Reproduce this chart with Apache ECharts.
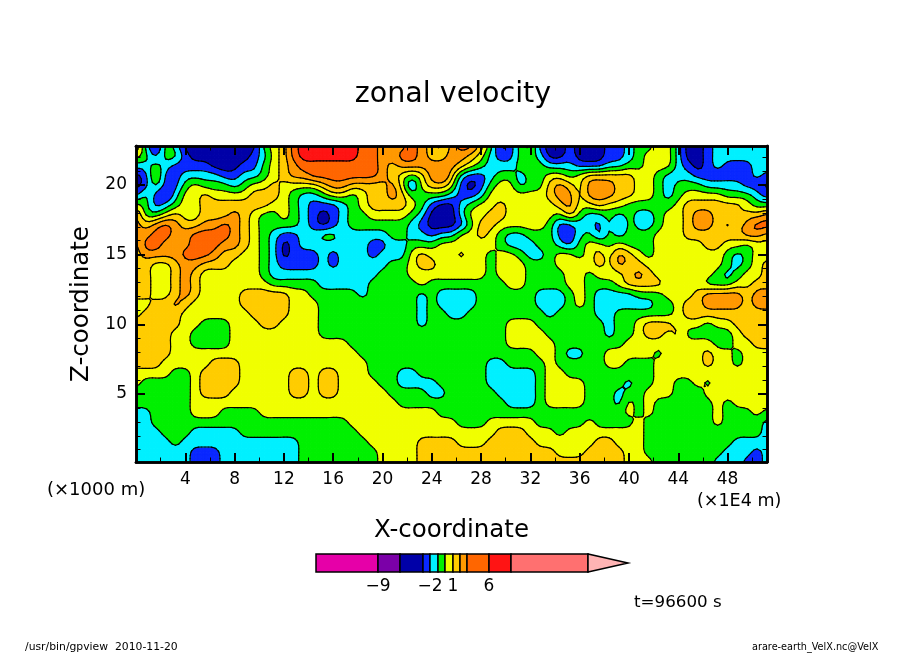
<!DOCTYPE html>
<html>
<head>
<meta charset="utf-8">
<title>zonal velocity</title>
<script src="https://cdn.jsdelivr.net/npm/echarts@6/dist/echarts.min.js"></script>
<style>
  html, body { margin: 0; background: #fff; }
  #chart-container { width: 904px; height: 654px; }
</style>
</head>
<body>
<div id="chart-container"></div>
<script>
// colour band read at each grid node, top row first (hex digit = index in bandColors)
const bandRows = [
    "84254222222225679AAAAAA998889876899752356322322233455664223444444",
    "65355322222234679AAAAAA998899877887643355422322233456664223444444",
    "44543333222335678999999998788888876544455544433344556664323433344",
    "23633444433445678899999998765689743345545566567777766544433333343",
    "23533565554566766667887777863677632356645578768887766545554444332",
    "35324667666677765445665677875555433466666678868887766545666655543",
    "65345667777777665433345677776532245667666667866766555556777777655",
    "85567667778765565432345566665422246677666665754454544566788776778",
    "87898778898765555432345555554322235776666653344353544566788787899",
    "88998899998765433445544444554434466765445553345354555666777777887",
    "79988899988765423444444433445556666665444554356656555666667766566",
    "78888999877665423334344434446766676656654456656768765666666654566",
    "77667887776665433334344444556776666656665556666768776666666654567",
    "77667876666665444444444445556666666656665555665666787666666545667",
    "77667876666666555554444455555655555555665555665556777766665556677",
    "77667876666777776655555455555454444555555444565444455566678888788",
    "66778766666777776665555555555454444555555444565444444556778888788",
    "67777666666677776665555555555455445555555545555445555556777777777",
    "77777665556667766665555555555455555555666555555545567776665667777",
    "77776655556666666665555555555555555555666655555545567767555556777",
    "77776655556666666666665555555555555555666665555555666666666556677",
    "77776666666666666666666555555555555555555665445566666566667665666",
    "77766666777666666666666655555555555544555565555566555666667665666",
    "66665567777666667767766655544555555544444566555555555666666666666",
    "65555567777666667767766665544445555544444566665555455665565666666",
    "55555567776666667767766666555544555554444566665554556665556666666",
    "55555566666666666666666666655555555555444566665554656555555656666",
    "44555566655556666666666666666665555555555555555555656555555655565",
    "44555555555555555555556666666666655566666555556555565555555655554",
    "44455544444555555555555666666666666667776665666666665555555555554",
    "44445444444444444555555566666777766677777666666776665555555554444",
    "44444433344444444555555556666777777777777776667777665555555544434",
    "44444433344444444555555556666777777777777777777777666555555444334"
];
const bandColors = ["#e600a8", "#7b00a8", "#0000a8", "#0a28ff", "#00f0ff", "#00f000", "#f0ff00", "#ffcc00", "#ff9900", "#ff6600", "#ff1414", "#ff7070", "#ffb4b4"];
const bandIndexes = [2, 3, 4, 5, 6, 7, 8, 9, 10];

const xTicks = [4, 8, 12, 16, 20, 24, 28, 32, 36, 40, 44, 48];
const xMinorTicks = [2, 6, 10, 14, 18, 22, 26, 30, 34, 38, 42, 46, 50];
const zTicks = [5, 10, 15, 20];
const zMinorTicks = [1, 2, 3, 4, 6, 7, 8, 9, 11, 12, 13, 14, 16, 17, 18, 19, 21, 22];

const colorbarStops = [0, 62, 84, 107, 114, 122, 129, 137, 144, 151, 173, 195, 272, 312];
const colorbarTickStops = [62, 114, 137, 173];
const colorbarTickLabels = ["\u22129", "\u22122", "1", "6"];

const xMin = 0, xMax = 51.2, zMin = 0.12, zMax = 22.8;
const FONT = '"DejaVu Sans", sans-serif';
const REFINE = 3;   // contour on a finer mesh so the outlines come out round
const SOFTEN = 3;   // light 1-2-1 passes over that mesh, takes the grid stair steps out

const nodeCols = 65;
const rows = bandRows.map(r => {
    const out = r.split('').map(ch => parseInt(ch, 16));
    while (out.length < nodeCols) out.push(out[out.length - 1]);
    return out.slice(0, nodeCols);
});

function catmull(p0, p1, p2, p3, t) {
    return p1 + 0.5 * t * (p2 - p0 + t * (2 * p0 - 5 * p1 + 4 * p2 - p3 + t * (3 * (p1 - p2) + p3 - p0)));
}
function sampleField(i, j, fi, fj) {
    const at = (a, b) => rows[Math.max(0, Math.min(rows.length - 1, a))][Math.max(0, Math.min(nodeCols - 1, b))];
    const col = [];
    for (let k = -1; k <= 2; k++) {
        col.push(catmull(at(i + k, j - 1), at(i + k, j), at(i + k, j + 1), at(i + k, j + 2), fj));
    }
    return catmull(col[0], col[1], col[2], col[3], fi);
}
let fineRows = [];
for (let i = 0; i <= (rows.length - 1) * REFINE; i++) {
    const line = [];
    for (let j = 0; j <= (nodeCols - 1) * REFINE; j++) {
        line.push(sampleField(Math.floor(i / REFINE), Math.floor(j / REFINE), (i % REFINE) / REFINE, (j % REFINE) / REFINE));
    }
    fineRows.push(line);
}
for (let pass = 0; pass < SOFTEN; pass++) {
    const h = fineRows.length, w = fineRows[0].length;
    const horiz = fineRows.map(l => l.map((v, j) => (l[Math.max(0, j - 1)] + 2 * v + l[Math.min(w - 1, j + 1)]) / 4));
    fineRows = horiz.map((l, i) => l.map((v, j) => (horiz[Math.max(0, i - 1)][j] + 2 * v + horiz[Math.min(h - 1, i + 1)][j]) / 4));
}
const fineX = j => xMin + (xMax - xMin) * j / (fineRows[0].length - 1);
const fineZ = i => zMax - (zMax - zMin) * i / (fineRows.length - 1);

// clip one mesh cell against "band >= t"; returns fill polygon and contour segments
function clipCell(corners, t) {
    const poly = [], segs = [];
    let exit = null;
    const start = corners.findIndex((c, k) => c[2] >= t && corners[(k + 3) % 4][2] < t);
    const first = start < 0 ? 0 : start;
    for (let k = 0; k < 4; k++) {
        const a = corners[(first + k) % 4], b = corners[(first + k + 1) % 4];
        if (a[2] >= t) poly.push([a[0], a[1]]);
        if ((a[2] >= t) !== (b[2] >= t)) {
            const f = (t - a[2]) / (b[2] - a[2]);
            const p = [a[0] + (b[0] - a[0]) * f, a[1] + (b[1] - a[1]) * f];
            poly.push(p);
            if (a[2] >= t) exit = p;
            else if (exit) { segs.push([exit, p]); exit = null; }
        }
    }
    if (exit) segs.push([exit, poly[0]]);
    return { poly, segs };
}

function eachCell(band, cb) {
    const t = band - 0.5;
    for (let i = 0; i < fineRows.length - 1; i++) {
        for (let j = 0; j < fineRows[i].length - 1; j++) {
            const corners = [
                [fineX(j), fineZ(i), fineRows[i][j]],
                [fineX(j + 1), fineZ(i), fineRows[i][j + 1]],
                [fineX(j + 1), fineZ(i + 1), fineRows[i + 1][j + 1]],
                [fineX(j), fineZ(i + 1), fineRows[i + 1][j]]
            ];
            const vals = corners.map(c => c[2]);
            if (Math.max(...vals) < t || Math.min(...vals) >= t + 1) continue;
            cb(clipCell(corners, t));
        }
    }
}

function renderBands(params, api) {
    const band = api.value(0);
    const children = [];
    if (band === 0) {
        // contour lines go on top of every fill
        bandIndexes.slice(1).forEach(b => eachCell(b, r => r.segs.forEach(s => {
            const a = api.coord(s[0]), c = api.coord(s[1]);
            children.push({
                type: 'line',
                shape: { x1: a[0], y1: a[1], x2: c[0], y2: c[1] },
                style: { stroke: '#000', lineWidth: 1.2, lineCap: 'round' }
            });
        })));
        return { type: 'group', children };
    }
    const color = bandColors[band];
    eachCell(band, r => {
        if (r.poly.length < 3) return;
        children.push({
            type: 'polygon',
            shape: { points: r.poly.map(p => api.coord(p)) },
            style: { fill: color, stroke: color, lineWidth: 1 }
        });
    });
    return { type: 'group', children };
}

function renderColorbar(params, api) {
    const i = api.value(0);
    const from = api.coord([colorbarStops[i], 0]);
    const to = api.coord([colorbarStops[i + 1], 1]);
    const style = { fill: bandColors[i], stroke: '#000', lineWidth: 1.5 };
    if (i === colorbarStops.length - 2) {
        return {
            type: 'polygon',
            shape: { points: [[from[0], from[1]], [to[0], (from[1] + to[1]) / 2], [from[0], to[1]]] },
            style: style
        };
    }
    return {
        type: 'rect',
        shape: { x: from[0], y: to[1], width: to[0] - from[0], height: from[1] - to[1] },
        style: style
    };
}

function plotAxis(extra, min, max) {
    const axisLine = { show: true, onZero: false, lineStyle: { color: '#000', width: 2.6 } };
    return Object.assign({
        type: 'value', gridIndex: 0, min: min, max: max, z: 10,
        axisLine: axisLine, splitLine: { show: false }, axisLabel: { show: false }
    }, extra);
}
const majorTick = v => ({ show: true, inside: true, length: 9, customValues: v, lineStyle: { color: '#000', width: 2 } });
const minorTick = v => ({ show: true, inside: true, length: 4.5, customValues: v, lineStyle: { color: '#000', width: 1 } });
const tickLabel = (v, margin) => ({ show: true, customValues: v, margin: margin, color: '#000', fontFamily: FONT, fontSize: 17, hideOverlap: false });
const corner = (x, y, text, size) => ({ type: 'text', left: x, top: y, style: { text: text, fontFamily: FONT, fontSize: size, fill: '#000' } });

document.addEventListener('DOMContentLoaded', function () {
    const option = {
        animation: false,
        backgroundColor: '#fff',
        title: {
            text: 'zonal velocity', left: 448, top: 75, textAlign: 'center',
            textStyle: { fontFamily: FONT, fontSize: 28.5, fontWeight: 'normal', color: '#000' }
        },
        grid: [
            { left: 136, top: 146, width: 631, height: 316 },
            { left: 316, top: 554, width: 312, height: 18 }
        ],
        xAxis: [
            plotAxis({ position: 'bottom', axisTick: majorTick(xTicks), axisLabel: tickLabel(xTicks, 9),
                name: 'X-coordinate', nameLocation: 'middle', nameGap: 56,
                nameTextStyle: { fontFamily: FONT, fontSize: 24.5, color: '#000' } }, xMin, xMax),
            plotAxis({ position: 'top', axisTick: majorTick(xTicks) }, xMin, xMax),
            plotAxis({ position: 'bottom', axisTick: minorTick(xMinorTicks) }, xMin, xMax),
            plotAxis({ position: 'top', axisTick: minorTick(xMinorTicks) }, xMin, xMax),
            {
                type: 'value', gridIndex: 1, min: 0, max: 312, position: 'bottom',
                axisLine: { show: false }, axisTick: { show: false }, splitLine: { show: false },
                axisLabel: {
                    customValues: colorbarTickStops, margin: 6, color: '#000', fontFamily: FONT, fontSize: 17,
                    formatter: v => colorbarTickLabels[colorbarTickStops.indexOf(v)]
                }
            }
        ],
        yAxis: [
            plotAxis({ position: 'left', axisTick: majorTick(zTicks), axisLabel: tickLabel(zTicks, 9),
                name: 'Z-coordinate', nameLocation: 'middle', nameGap: 40, nameRotate: 90,
                nameTextStyle: { fontFamily: FONT, fontSize: 24.5, color: '#000' } }, zMin, zMax),
            plotAxis({ position: 'right', axisTick: majorTick(zTicks) }, zMin, zMax),
            plotAxis({ position: 'left', axisTick: minorTick(zMinorTicks) }, zMin, zMax),
            plotAxis({ position: 'right', axisTick: minorTick(zMinorTicks) }, zMin, zMax),
            { type: 'value', gridIndex: 1, min: 0, max: 1, show: false }
        ],
        series: [
            {
                type: 'custom', silent: true, clip: true, xAxisIndex: 0, yAxisIndex: 0,
                coordinateSystem: 'cartesian2d', renderItem: renderBands,
                data: bandIndexes.map(b => [b]).concat([[0]]),
                encode: { x: 1, y: 1 }
            },
            {
                type: 'custom', silent: true, xAxisIndex: 4, yAxisIndex: 4,
                coordinateSystem: 'cartesian2d', renderItem: renderColorbar,
                data: colorbarStops.slice(1).map((s, i) => [i]),
                encode: { x: 1, y: 1 }
            }
        ],
        graphic: [
            corner(47, 481, '(\u00d71000 m)', 18),
            corner(697, 492, '(\u00d71E4 m)', 17.5),
            corner(634, 594, 't=96600 s', 16.7),
            corner(25, 642, '/usr/bin/gpview  2010-11-20', 10.8),
            corner(752, 642, 'arare-earth_VelX.nc@VelX', 9.7)
        ]
    };
    const chart = echarts.init(document.getElementById('chart-container'), null, { renderer: 'canvas' });
    chart.setOption(option);
});
</script>
</body>
</html>
